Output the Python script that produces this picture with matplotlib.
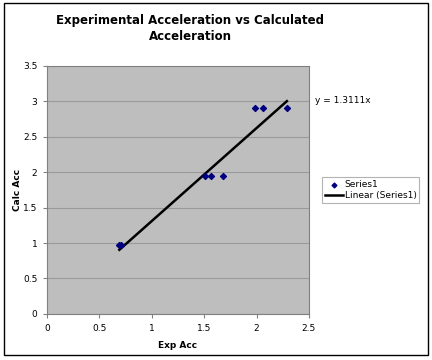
import matplotlib
matplotlib.use("Agg")
import matplotlib.pyplot as plt
import numpy as np

# data
exp_acc = [0.69, 0.71, 1.51, 1.57, 1.68, 1.99, 2.06, 2.29]
calc_acc = [0.97, 0.97, 1.94, 1.94, 1.94, 2.90, 2.90, 2.90]
slope = 1.3111
x_ticks = [0, 0.5, 1, 1.5, 2, 2.5]
y_ticks = [0, 0.5, 1, 1.5, 2, 2.5, 3, 3.5]

plt.rcParams['font.family'] = ['DejaVu Sans']

fig = plt.figure(figsize=(4.32, 3.6), dpi=100)
fig.patch.set_facecolor('white')
# outer chart border
fig.add_artist(plt.Rectangle((0.009, 0.014), 0.982, 0.978, transform=fig.transFigure,
                             fill=False, edgecolor='black', linewidth=1.0))

ax = fig.add_axes([0.109, 0.128, 0.606, 0.689])
ax.set_facecolor('#bebebe')

x = np.array(exp_acc)
ax.scatter(x, calc_acc, marker='D', s=9, color='#000080', zorder=3, label='Series1')
xl = np.array([min(exp_acc), max(exp_acc)])
ax.plot(xl, slope * xl, color='black', linewidth=1.8, zorder=2, label='Linear (Series1)')

ax.set_xlim(0, 2.5)
ax.set_ylim(0, 3.5)
ax.set_xticks(x_ticks)
ax.set_yticks(y_ticks)
ax.set_xticklabels([f'{v:g}' for v in x_ticks], fontsize=6.5)
ax.set_yticklabels([f'{v:g}' for v in y_ticks], fontsize=6.5)
ax.grid(axis='y', color='#9a9a9a', linewidth=0.8)
ax.set_axisbelow(True)
for s in ax.spines.values():
    s.set_color('#808080')
ax.tick_params(length=3, color='#808080', pad=4)

ax.set_xlabel('Exp Acc', fontsize=6.5, fontweight='bold', labelpad=6)
ax.set_ylabel('Calc Acc', fontsize=6.5, fontweight='bold', labelpad=1)

fig.text(0.44, 0.92, 'Experimental Acceleration vs Calculated\nAcceleration', ha='center', va='center',
         fontsize=8.5, fontweight='bold', linespacing=1.3)
fig.text(0.729, 0.722, f'y = {slope}x', fontsize=6.5, va='center')

leg = ax.legend(loc='center left', bbox_to_anchor=(1.05, 0.5), fontsize=6.5, frameon=True,
                fancybox=False, edgecolor='#a0a0a0', handlelength=2.0, handletextpad=0.2,
                borderpad=0.3, labelspacing=0.2, borderaxespad=0, markerscale=0.8)
leg.get_frame().set_linewidth(0.8)

fig.savefig('out.png', dpi=100)
